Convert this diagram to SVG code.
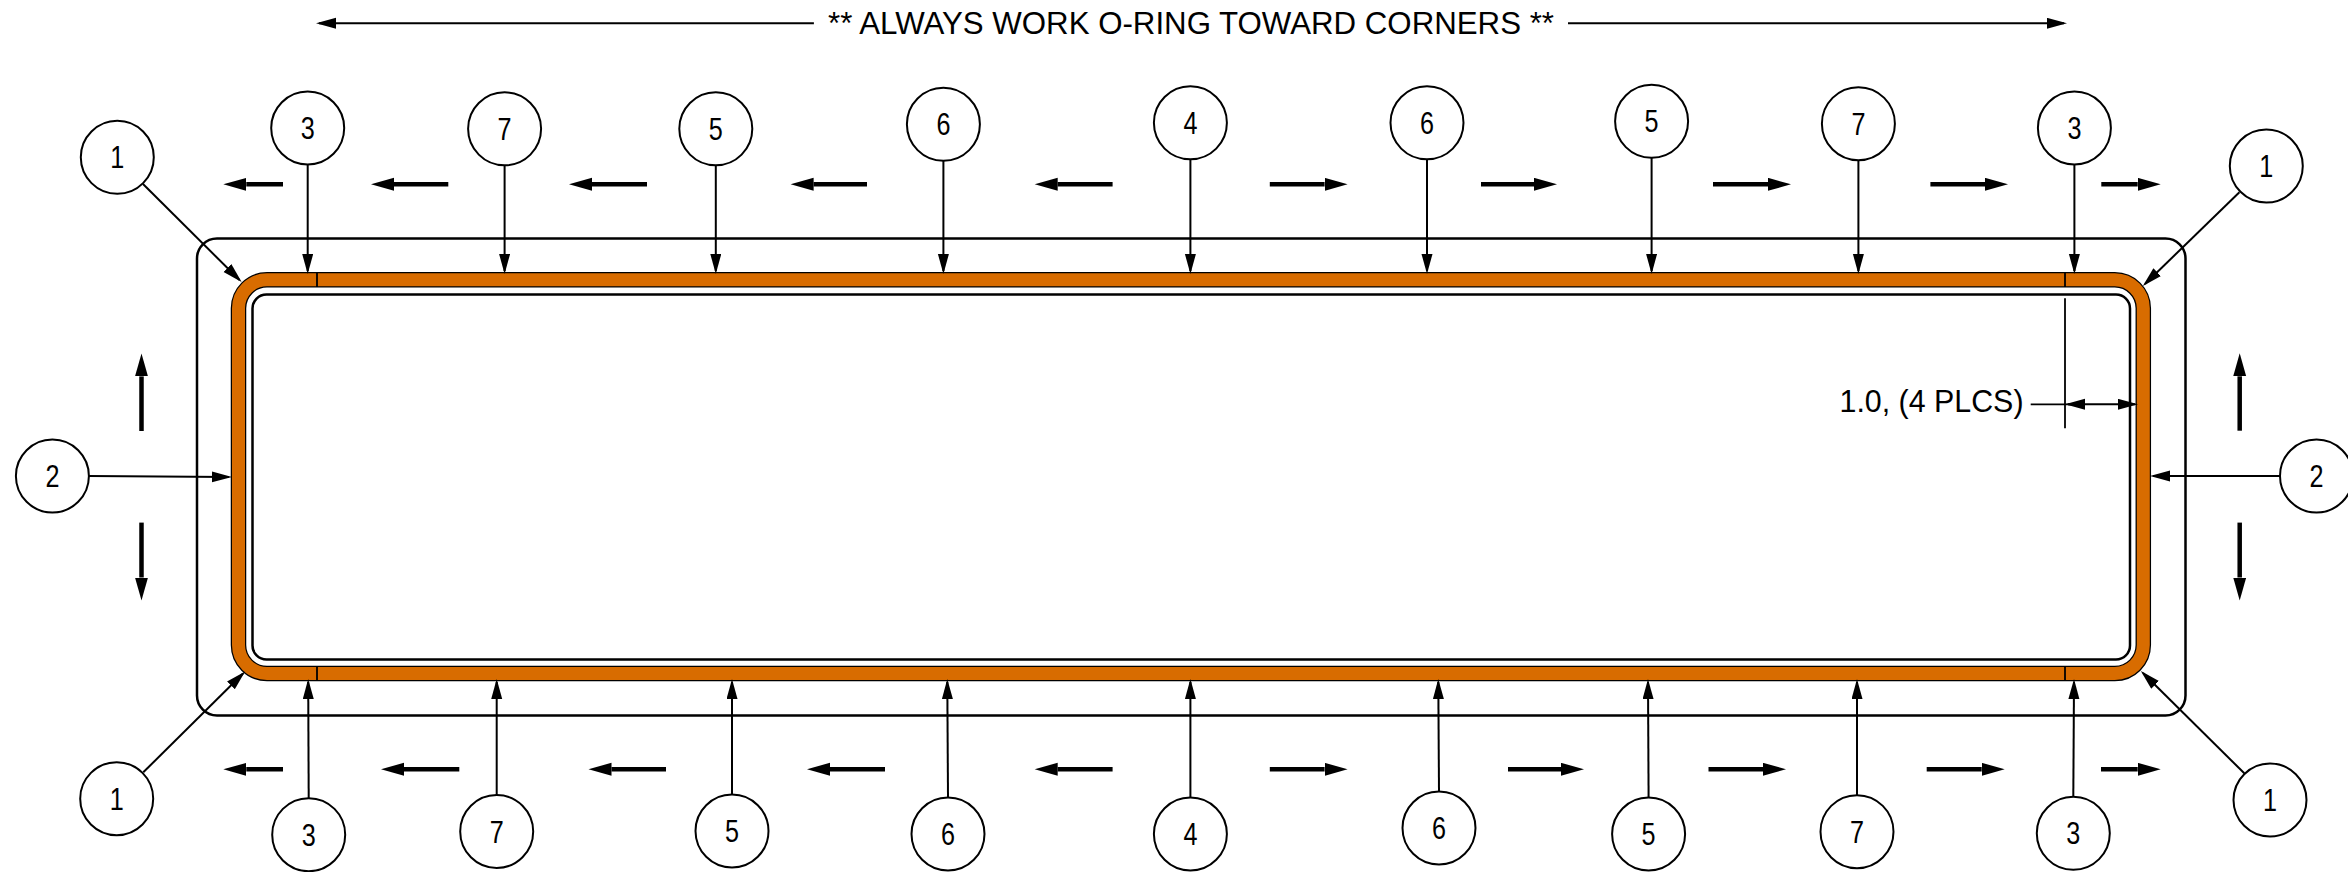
<svg xmlns="http://www.w3.org/2000/svg" width="2348" height="872" viewBox="0 0 2348 872">
<style>
.b circle{fill:#fff;stroke:#000;stroke-width:2}
.b text{font-family:"Liberation Sans",Arial,sans-serif;font-size:32px;text-anchor:middle;fill:#000}
.t{font-family:"Liberation Sans",Arial,sans-serif;font-size:31px;fill:#000}
.l line{stroke:#000;stroke-width:2;fill:none;marker-end:url(#a)}
.f line{stroke:#000;stroke-width:4.500;fill:none;marker-end:url(#h)}
.d line{stroke:#000;stroke-width:1.800;fill:none}
</style>
<defs>
<marker id="a" markerUnits="userSpaceOnUse" markerWidth="24" markerHeight="14" refX="17" refY="5.500" orient="auto"><path d="M0 0L20 5.500L0 11Z" fill="#000"/></marker>
<marker id="h" markerUnits="userSpaceOnUse" markerWidth="26" markerHeight="16" refX="0" refY="6.500" orient="auto"><path d="M0 0L23 6.500L0 13Z" fill="#000"/></marker>
</defs>
<g id="plate"><rect x="197" y="238.500" width="1988.500" height="477" rx="20" fill="none" stroke="#000" stroke-width="2.500"/></g>
<g id="oring">
<rect x="238.500" y="279.800" width="1904.800" height="393.700" rx="28.500" fill="none" stroke="#000" stroke-width="15.500"/>
<rect x="238.500" y="279.800" width="1904.800" height="393.700" rx="28.500" fill="none" stroke="#d86c00" stroke-width="13"/>
<path d="M317 272V287M2065 272V287M317 666V681M2065 666V681" stroke="#000" stroke-width="1.800" fill="none"/>
</g>
<g id="opening"><rect x="252.500" y="294.500" width="1877.500" height="365" rx="14" fill="none" stroke="#000" stroke-width="2.500"/></g>
<g id="connectors">
<g class="l">
<line x1="143" y1="184" x2="239.500" y2="280"/>
<line x1="2239.400" y1="192.300" x2="2145" y2="284"/>
<line x1="143.300" y1="772.300" x2="243" y2="673.500"/>
<line x1="2244.300" y1="773.300" x2="2143" y2="673"/>
<line x1="89" y1="476" x2="229" y2="477"/>
<line x1="2280" y1="476" x2="2153" y2="476"/>
<line x1="307.700" y1="164" x2="307.700" y2="271"/>
<line x1="504.600" y1="165" x2="504.600" y2="271"/>
<line x1="715.800" y1="165" x2="715.800" y2="271"/>
<line x1="943.400" y1="161" x2="943.400" y2="271"/>
<line x1="1190.400" y1="159" x2="1190.400" y2="271"/>
<line x1="1427" y1="159" x2="1427" y2="271"/>
<line x1="1651.600" y1="158" x2="1651.600" y2="271"/>
<line x1="1858.400" y1="160" x2="1858.400" y2="271"/>
<line x1="2074.400" y1="164" x2="2074.400" y2="271"/>
<line x1="308.700" y1="798" x2="308.200" y2="682"/>
<line x1="496.700" y1="795" x2="496.700" y2="682"/>
<line x1="732" y1="795" x2="732" y2="682"/>
<line x1="948" y1="798" x2="947.300" y2="682"/>
<line x1="1190.400" y1="798" x2="1190.400" y2="682"/>
<line x1="1439" y1="792" x2="1438.300" y2="682"/>
<line x1="1648.600" y1="798" x2="1648" y2="682"/>
<line x1="1857" y1="795" x2="1857" y2="682"/>
<line x1="2073.300" y1="797" x2="2074" y2="682"/>
<line x1="813.900" y1="23.300" x2="319" y2="23.300"/>
<line x1="1568" y1="23.300" x2="2064" y2="23.300"/>
<line x1="2085" y1="404.300" x2="2068" y2="404.300"/>
<line x1="2085" y1="404.300" x2="2135" y2="404.300"/>
</g>
<g class="d">
<line x1="2030.700" y1="404.300" x2="2085" y2="404.300"/>
<line x1="2065" y1="298.300" x2="2065" y2="428.300"/>
</g>
<g class="f">
<line x1="283" y1="184.300" x2="246.300" y2="184.300"/>
<line x1="448.300" y1="184.300" x2="394" y2="184.300"/>
<line x1="647" y1="184.300" x2="592" y2="184.300"/>
<line x1="867" y1="184.300" x2="813.600" y2="184.300"/>
<line x1="1112.600" y1="184.300" x2="1057.700" y2="184.300"/>
<line x1="1269.800" y1="184.300" x2="1324.600" y2="184.300"/>
<line x1="1481" y1="184.300" x2="1534" y2="184.300"/>
<line x1="1713" y1="184.300" x2="1768" y2="184.300"/>
<line x1="1930.400" y1="184.300" x2="1985" y2="184.300"/>
<line x1="2101.300" y1="184.300" x2="2137.700" y2="184.300"/>
<line x1="283" y1="769.300" x2="246.300" y2="769.300"/>
<line x1="459.300" y1="769.300" x2="404" y2="769.300"/>
<line x1="666" y1="769.300" x2="611.500" y2="769.300"/>
<line x1="885" y1="769.300" x2="830" y2="769.300"/>
<line x1="1112.600" y1="769.300" x2="1057.700" y2="769.300"/>
<line x1="1269.800" y1="769.300" x2="1324.600" y2="769.300"/>
<line x1="1508" y1="769.300" x2="1561" y2="769.300"/>
<line x1="1708.500" y1="769.300" x2="1763" y2="769.300"/>
<line x1="1926.700" y1="769.300" x2="1981.700" y2="769.300"/>
<line x1="2101" y1="769.300" x2="2137.700" y2="769.300"/>
<line x1="141.500" y1="431" x2="141.500" y2="376.400"/>
<line x1="141.500" y1="522.600" x2="141.500" y2="577.500"/>
<line x1="2239.700" y1="430.700" x2="2239.700" y2="376.300"/>
<line x1="2239.700" y1="522.600" x2="2239.700" y2="577.500"/>
</g>
</g>
<g id="n1a" class="b"><circle cx="117.300" cy="157.300" r="36.500"/><text x="117.300" y="168.300" textLength="14" lengthAdjust="spacingAndGlyphs">1</text></g>
<g id="n3a" class="b"><circle cx="307.700" cy="128" r="36.500"/><text x="307.700" y="139" textLength="14" lengthAdjust="spacingAndGlyphs">3</text></g>
<g id="n7a" class="b"><circle cx="504.600" cy="128.800" r="36.500"/><text x="504.600" y="139.800" textLength="14" lengthAdjust="spacingAndGlyphs">7</text></g>
<g id="n5a" class="b"><circle cx="715.800" cy="128.800" r="36.500"/><text x="715.800" y="139.800" textLength="14" lengthAdjust="spacingAndGlyphs">5</text></g>
<g id="n6a" class="b"><circle cx="943.400" cy="124.300" r="36.500"/><text x="943.400" y="135.300" textLength="14" lengthAdjust="spacingAndGlyphs">6</text></g>
<g id="n4a" class="b"><circle cx="1190.400" cy="122.800" r="36.500"/><text x="1190.400" y="133.800" textLength="14" lengthAdjust="spacingAndGlyphs">4</text></g>
<g id="n6b" class="b"><circle cx="1427" cy="122.800" r="36.500"/><text x="1427" y="133.800" textLength="14" lengthAdjust="spacingAndGlyphs">6</text></g>
<g id="n5b" class="b"><circle cx="1651.600" cy="121.300" r="36.500"/><text x="1651.600" y="132.300" textLength="14" lengthAdjust="spacingAndGlyphs">5</text></g>
<g id="n7b" class="b"><circle cx="1858.400" cy="123.700" r="36.500"/><text x="1858.400" y="134.700" textLength="14" lengthAdjust="spacingAndGlyphs">7</text></g>
<g id="n3b" class="b"><circle cx="2074.400" cy="128" r="36.500"/><text x="2074.400" y="139" textLength="14" lengthAdjust="spacingAndGlyphs">3</text></g>
<g id="n1b" class="b"><circle cx="2266.300" cy="166" r="36.500"/><text x="2266.300" y="177" textLength="14" lengthAdjust="spacingAndGlyphs">1</text></g>
<g id="n2a" class="b"><circle cx="52.400" cy="476" r="36.500"/><text x="52.400" y="487" textLength="14" lengthAdjust="spacingAndGlyphs">2</text></g>
<g id="n2b" class="b"><circle cx="2316.500" cy="476" r="36.500"/><text x="2316.500" y="487" textLength="14" lengthAdjust="spacingAndGlyphs">2</text></g>
<g id="n1c" class="b"><circle cx="116.700" cy="798.700" r="36.500"/><text x="116.700" y="809.700" textLength="14" lengthAdjust="spacingAndGlyphs">1</text></g>
<g id="n3c" class="b"><circle cx="308.700" cy="834.700" r="36.500"/><text x="308.700" y="845.700" textLength="14" lengthAdjust="spacingAndGlyphs">3</text></g>
<g id="n7c" class="b"><circle cx="496.700" cy="831.500" r="36.500"/><text x="496.700" y="842.500" textLength="14" lengthAdjust="spacingAndGlyphs">7</text></g>
<g id="n5c" class="b"><circle cx="732" cy="831" r="36.500"/><text x="732" y="842" textLength="14" lengthAdjust="spacingAndGlyphs">5</text></g>
<g id="n6c" class="b"><circle cx="948" cy="834" r="36.500"/><text x="948" y="845" textLength="14" lengthAdjust="spacingAndGlyphs">6</text></g>
<g id="n4b" class="b"><circle cx="1190.400" cy="834" r="36.500"/><text x="1190.400" y="845" textLength="14" lengthAdjust="spacingAndGlyphs">4</text></g>
<g id="n6d" class="b"><circle cx="1439" cy="828" r="36.500"/><text x="1439" y="839" textLength="14" lengthAdjust="spacingAndGlyphs">6</text></g>
<g id="n5d" class="b"><circle cx="1648.600" cy="834" r="36.500"/><text x="1648.600" y="845" textLength="14" lengthAdjust="spacingAndGlyphs">5</text></g>
<g id="n7d" class="b"><circle cx="1857" cy="831.700" r="36.500"/><text x="1857" y="842.700" textLength="14" lengthAdjust="spacingAndGlyphs">7</text></g>
<g id="n3d" class="b"><circle cx="2073.300" cy="833.300" r="36.500"/><text x="2073.300" y="844.300" textLength="14" lengthAdjust="spacingAndGlyphs">3</text></g>
<g id="n1d" class="b"><circle cx="2270" cy="800" r="36.500"/><text x="2270" y="811" textLength="14" lengthAdjust="spacingAndGlyphs">1</text></g>
<text id="note" class="t" x="828" y="34" textLength="726" lengthAdjust="spacingAndGlyphs">** ALWAYS WORK O-RING TOWARD CORNERS **</text>
<text id="dim" class="t" x="1839.500" y="412" textLength="184" lengthAdjust="spacingAndGlyphs">1.0, (4 PLCS)</text>
</svg>
